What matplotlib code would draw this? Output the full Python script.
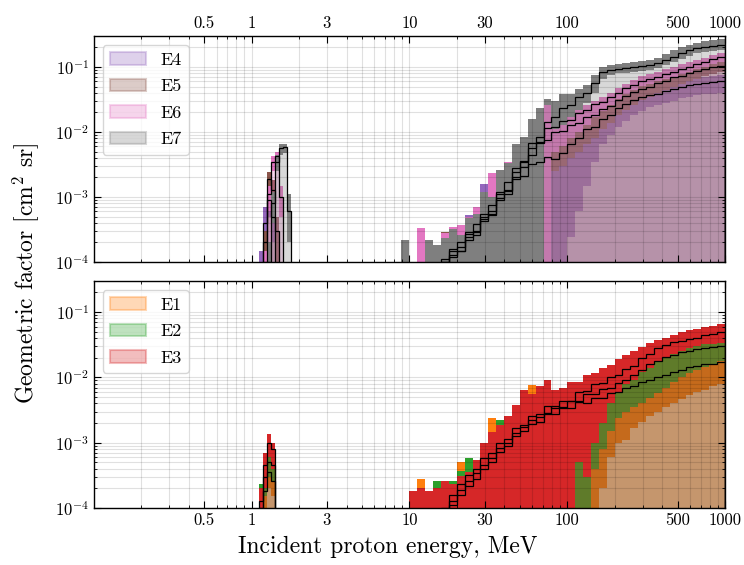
import numpy as np
import matplotlib
matplotlib.use("Agg")
import matplotlib.pyplot as plt
from matplotlib.patches import Patch
from matplotlib.colors import to_rgba
from matplotlib.ticker import LogLocator, NullFormatter

plt.rcParams.update({
    "font.family": "serif",
    "font.serif": ["cmr10"],
    "mathtext.fontset": "cm",
    "axes.formatter.use_mathtext": True,
    "axes.linewidth": 1.0,
})

# energy bins (MeV): narrow peak near 1.2-1.8 MeV and the main range 9-1000 MeV
peak_edges = 10 ** np.linspace(0.05, 0.25, 9)
edges = 10 ** np.linspace(0.95, 3.0, 42)

# ---------------- top panel: E4..E7 ----------------
# peak bins
pk_hi4 = [1.5e-4, 7e-4, 1.2e-3, 8e-4, 0, 0, 0, 0]
pk_mean4 = [8e-5, 4e-4, 9e-4, 5e-4, 0, 0, 0, 0]
pk_lo4 = [0, 1.5e-4, 5e-4, 2e-4, 0, 0, 0, 0]
pk_hi5 = [0, 3e-4, 2.4e-3, 1.8e-3, 5e-4, 0, 0, 0]
pk_mean5 = [0, 2e-4, 1.9e-3, 1.3e-3, 3e-4, 0, 0, 0]
pk_lo5 = [0, 0, 1.2e-3, 8e-4, 1e-4, 0, 0, 0]
pk_hi6 = [0, 1.5e-4, 1.5e-3, 4.3e-3, 5e-3, 1.5e-3, 0, 0]
pk_mean6 = [0, 1e-4, 1.1e-3, 3.5e-3, 4.2e-3, 1e-3, 0, 0]
pk_lo6 = [0, 0, 6e-4, 2.5e-3, 3.2e-3, 5e-4, 0, 0]
pk_hi7 = [0, 0, 2e-4, 1.2e-3, 4.5e-3, 6.5e-3, 6.5e-3, 1.1e-3]
pk_mean7 = [0, 0, 1e-4, 8e-4, 3.5e-3, 5.6e-3, 5.8e-3, 6e-4]
pk_lo7 = [0, 0, 0, 4e-4, 2.5e-3, 4.5e-3, 4.8e-3, 2e-4]

# main range
hi4 = [0, 0, 1.4e-4, 0, 1.8e-4, 1.5e-4, 2.0e-4, 3.0e-4, 5.2e-4, 6.0e-4,
       1.6e-3, 1.3e-3, 1.8e-3, 2.5e-3, 3.5e-3, 5.0e-3, 6.5e-3, 8.0e-3, 9.0e-3, 9.5e-3,
       1.0e-2, 1.1e-2, 1.3e-2, 1.5e-2, 1.8e-2, 2.1e-2, 2.5e-2, 2.9e-2, 3.3e-2, 3.7e-2,
       4.0e-2, 4.3e-2, 4.7e-2, 5.1e-2, 5.5e-2, 5.9e-2, 6.3e-2, 6.6e-2, 6.9e-2, 7.2e-2,
       7.5e-2]
mean4 = [0, 0, 6e-5, 0, 7e-5, 9e-5, 1.3e-4, 1.5e-4, 2.4e-4, 2.6e-4,
         4.6e-4, 5.2e-4, 9.5e-4, 1.1e-3, 1.9e-3, 2.1e-3, 3.2e-3, 3.4e-3, 4.1e-3, 3.9e-3,
         4.8e-3, 6.5e-3, 8.0e-3, 1.1e-2, 1.2e-2, 1.6e-2, 1.85e-2, 2.35e-2, 2.65e-2, 3.1e-2,
         3.4e-2, 3.7e-2, 3.9e-2, 4.3e-2, 4.6e-2, 5.0e-2, 5.2e-2, 5.5e-2, 5.7e-2, 5.9e-2,
         6.1e-2]
lo4 = [0, 0, 0, 0, 0, 0, 0, 0, 0, 0,
       0, 0, 0, 0, 0, 0, 0, 0, 0, 0,
       0, 2.4e-4, 6e-4, 1.5e-3, 3.5e-3, 6.5e-3, 9e-3, 1.2e-2, 1.5e-2, 1.8e-2,
       2.1e-2, 2.4e-2, 2.6e-2, 2.8e-2, 3.0e-2, 3.3e-2, 3.5e-2, 3.7e-2, 3.8e-2, 3.9e-2,
       4.0e-2]

hi5 = [1.2e-4, 0, 0, 0, 1.3e-4, 2.9e-4, 3.3e-4, 3.4e-4, 4.2e-4, 6.0e-4,
       1.0e-3, 1.4e-3, 2.0e-3, 3.0e-3, 4.5e-3, 6.5e-3, 9.0e-3, 1.2e-2, 1.4e-2, 1.5e-2,
       1.45e-2, 1.55e-2, 1.75e-2, 2.0e-2, 2.3e-2, 2.6e-2, 3.1e-2, 3.6e-2, 4.2e-2, 4.8e-2,
       5.4e-2, 6.0e-2, 6.6e-2, 7.2e-2, 7.9e-2, 8.6e-2, 9.3e-2, 0.10, 0.107, 0.114,
       0.12]
mean5 = [5e-5, 0, 0, 0, 5e-5, 1.0e-4, 1.2e-4, 2.0e-4, 2.2e-4, 3.8e-4,
         4.2e-4, 7.5e-4, 9.0e-4, 1.7e-3, 2.0e-3, 3.6e-3, 4.4e-3, 7.0e-3, 7.6e-3, 1.0e-2,
         1.05e-2, 1.3e-2, 1.4e-2, 1.7e-2, 1.85e-2, 2.25e-2, 2.55e-2, 3.15e-2, 3.55e-2, 4.1e-2,
         4.6e-2, 5.0e-2, 5.7e-2, 6.1e-2, 6.9e-2, 7.3e-2, 8.1e-2, 8.6e-2, 9.2e-2, 9.9e-2,
         0.105]
lo5 = [0, 0, 0, 0, 0, 0, 0, 0, 0, 0,
       0, 0, 0, 0, 0, 0, 0, 0, 0, 2.5e-3,
       3e-3, 4e-3, 5e-3, 6.5e-3, 8e-3, 1.1e-2, 1.4e-2, 1.8e-2, 2.2e-2, 2.6e-2,
       3.1e-2, 3.5e-2, 4.0e-2, 4.5e-2, 5.0e-2, 5.5e-2, 6.1e-2, 6.6e-2, 7.2e-2, 7.8e-2,
       8.4e-2]

hi6 = [0, 0, 3.3e-4, 1.4e-4, 1.6e-4, 2.8e-4, 3.5e-4, 3.7e-4, 5.0e-4, 7.0e-4,
       1.1e-3, 2.3e-3, 2.2e-3, 3.5e-3, 5.5e-3, 8.0e-3, 1.2e-2, 1.8e-2, 2.7e-2, 1.5e-2,
       1.7e-2, 1.8e-2, 2.2e-2, 2.6e-2, 3.0e-2, 3.4e-2, 4.0e-2, 4.7e-2, 5.5e-2, 6.3e-2,
       7.2e-2, 7.8e-2, 8.5e-2, 9.2e-2, 0.10, 0.11, 0.12, 0.13, 0.14, 0.152,
       0.165]
mean6 = [0, 0, 8e-5, 5e-5, 6e-5, 1.0e-4, 1.5e-4, 1.5e-4, 2.7e-4, 2.9e-4,
         5.0e-4, 6.0e-4, 1.1e-3, 1.25e-3, 2.4e-3, 2.9e-3, 5.6e-3, 6.8e-3, 1.15e-2, 1.2e-2,
         1.5e-2, 1.55e-2, 1.95e-2, 2.15e-2, 2.65e-2, 2.85e-2, 3.45e-2, 3.95e-2, 4.75e-2, 5.35e-2,
         6.1e-2, 6.6e-2, 7.1e-2, 7.9e-2, 8.4e-2, 9.3e-2, 0.101, 0.111, 0.12, 0.132,
         0.145]
lo6 = [0, 0, 0, 0, 0, 0, 0, 0, 0, 0,
       0, 0, 0, 0, 0, 0, 0, 0, 0, 5e-3,
       6e-3, 8e-3, 1.0e-2, 1.3e-2, 1.7e-2, 2.1e-2, 2.6e-2, 3.2e-2, 3.8e-2, 4.5e-2,
       5.1e-2, 5.5e-2, 6.0e-2, 6.5e-2, 7.1e-2, 7.8e-2, 8.5e-2, 9.2e-2, 0.10, 0.11,
       0.12]

hi7 = [2.2e-4, 0, 0, 2.2e-4, 1.8e-4, 2.3e-4, 3.2e-4, 2.6e-4, 4.8e-4, 5.5e-4,
       1.2e-3, 1.0e-3, 2.6e-3, 3.3e-3, 6.5e-3, 8.5e-3, 1.6e-2, 2.3e-2, 3.2e-2, 3.0e-2,
       3.8e-2, 3.9e-2, 4.6e-2, 5.3e-2, 7.5e-2, 0.10, 0.108, 0.112, 0.115, 0.12,
       0.125, 0.13, 0.14, 0.16, 0.18, 0.20, 0.22, 0.235, 0.25, 0.258,
       0.265]
mean7 = [5e-5, 0, 0, 6e-5, 7e-5, 1.1e-4, 1.6e-4, 1.7e-4, 2.9e-4, 3.0e-4,
         5.5e-4, 5.5e-4, 1.2e-3, 1.3e-3, 2.8e-3, 3.4e-3, 6.8e-3, 8.5e-3, 1.45e-2, 1.7e-2,
         2.3e-2, 2.6e-2, 3.4e-2, 4.0e-2, 5.6e-2, 8.3e-2, 9.0e-2, 9.4e-2, 9.6e-2, 9.9e-2,
         0.103, 0.107, 0.115, 0.13, 0.145, 0.163, 0.18, 0.193, 0.203, 0.21,
         0.215]
lo7 = [0, 0, 0, 0, 0, 0, 0, 0, 0, 0,
       0, 0, 0, 0, 0, 0, 0, 0, 2.6e-2, 1.1e-2,
       1.3e-2, 1.7e-2, 2.2e-2, 2.8e-2, 4.0e-2, 6.5e-2, 7.5e-2, 8.0e-2, 8.2e-2, 8.4e-2,
       8.7e-2, 9.0e-2, 9.6e-2, 0.108, 0.12, 0.135, 0.15, 0.162, 0.17, 0.176,
       0.18]

# ---------------- bottom panel: E1..E3 ----------------
pk_hi1 = [0, 2.5e-4, 4.5e-4, 3.5e-4, 0, 0, 0, 0]
pk_mean1 = [0, 1.8e-4, 3.5e-4, 2.6e-4, 0, 0, 0, 0]
pk_lo1 = [0, 0, 2e-4, 1.5e-4, 0, 0, 0, 0]
pk_hi2 = [2.3e-4, 4e-4, 7e-4, 6e-4, 0, 0, 0, 0]
pk_mean2 = [1.3e-4, 3e-4, 5e-4, 4.5e-4, 0, 0, 0, 0]
pk_lo2 = [0, 1.5e-4, 3e-4, 2.5e-4, 0, 0, 0, 0]
pk_hi3 = [2e-4, 7e-4, 1.35e-3, 1e-3, 0, 0, 0, 0]
pk_mean3 = [1e-4, 4.5e-4, 9.8e-4, 8e-4, 0, 0, 0, 0]
pk_lo3 = [0, 2e-4, 6e-4, 4e-4, 0, 0, 0, 0]

hi1 = [0, 1.2e-4, 2.8e-4, 1.5e-4, 1.6e-4, 1.8e-4, 2.4e-4, 5.0e-4, 4.0e-4, 4.5e-4,
       7.0e-4, 2.4e-3, 1.6e-3, 2.0e-3, 3.0e-3, 4.0e-3, 7.6e-3, 4.5e-3, 5.0e-3, 5.0e-3,
       4.5e-3, 5.0e-3, 5.5e-3, 6.0e-3, 6.5e-3, 7.0e-3, 7.5e-3, 8.5e-3, 9.5e-3, 1.05e-2,
       1.15e-2, 1.3e-2, 1.45e-2, 1.6e-2, 1.75e-2, 1.9e-2, 2.0e-2, 2.1e-2, 2.2e-2, 2.35e-2,
       2.5e-2]
mean1 = [0, 5e-5, 5e-5, 5e-5, 6e-5, 8e-5, 1.3e-4, 1.6e-4, 2.6e-4, 2.8e-4,
         4.6e-4, 5.0e-4, 8.2e-4, 8.8e-4, 1.4e-3, 1.5e-3, 2.2e-3, 2.1e-3, 2.9e-3, 2.8e-3,
         3.5e-3, 3.4e-3, 4.2e-3, 4.1e-3, 4.8e-3, 4.9e-3, 5.7e-3, 5.9e-3, 7.0e-3, 7.3e-3,
         8.5e-3, 9.0e-3, 1.03e-2, 1.08e-2, 1.22e-2, 1.28e-2, 1.42e-2, 1.48e-2, 1.6e-2, 1.63e-2,
         1.72e-2]
lo1 = [0, 0, 0, 0, 0, 0, 0, 0, 0, 0,
       0, 0, 0, 0, 0, 0, 0, 0, 0, 0,
       0, 0, 0, 0, 0, 2e-4, 6e-4, 1.0e-3, 1.1e-3, 1.7e-3,
       2.1e-3, 2.6e-3, 3.0e-3, 3.5e-3, 4.1e-3, 4.7e-3, 5.3e-3, 5.9e-3, 6.5e-3, 7.3e-3,
       8.0e-3]

hi2 = [0, 1.5e-4, 1.6e-4, 1.5e-4, 2.6e-4, 2.0e-4, 2.6e-4, 3.7e-4, 5.8e-4, 4.5e-4,
       8.0e-4, 1.2e-3, 2.2e-3, 2.2e-3, 3.5e-3, 5.0e-3, 5.5e-3, 6.0e-3, 6.5e-3, 6.0e-3,
       5.5e-3, 6.5e-3, 7.5e-3, 8.5e-3, 9.5e-3, 1.05e-2, 1.2e-2, 1.4e-2, 1.6e-2, 1.8e-2,
       2.1e-2, 2.4e-2, 2.7e-2, 3.0e-2, 3.2e-2, 3.4e-2, 3.6e-2, 3.8e-2, 4.0e-2, 4.1e-2,
       4.2e-2]
mean2 = [0, 5e-5, 5e-5, 6e-5, 7e-5, 9e-5, 1.1e-4, 2.3e-4, 2.2e-4, 3.9e-4,
         4.0e-4, 7.0e-4, 7.2e-4, 1.15e-3, 1.25e-3, 1.9e-3, 1.95e-3, 2.8e-3, 2.8e-3, 3.6e-3,
         3.4e-3, 4.3e-3, 4.4e-3, 5.5e-3, 5.6e-3, 6.6e-3, 6.8e-3, 8.3e-3, 9.0e-3, 1.1e-2,
         1.28e-2, 1.58e-2, 1.77e-2, 2.08e-2, 2.22e-2, 2.48e-2, 2.58e-2, 2.72e-2, 2.78e-2, 2.92e-2,
         3.0e-2]
lo2 = [0, 0, 0, 0, 0, 0, 0, 0, 0, 0,
       0, 0, 0, 0, 0, 0, 0, 0, 0, 0,
       0, 0, 0, 0, 4e-4, 8e-4, 1.5e-3, 2.4e-3, 3.0e-3, 3.5e-3,
       4.0e-3, 4.9e-3, 5.8e-3, 7.0e-3, 8.5e-3, 1.0e-2, 1.15e-2, 1.3e-2, 1.45e-2, 1.6e-2,
       1.8e-2]

hi3 = [0, 1.8e-4, 2.0e-4, 1.8e-4, 2.0e-4, 2.6e-4, 2.3e-4, 3.1e-4, 3.5e-4, 5.5e-4,
       1.0e-3, 1.45e-3, 1.9e-3, 2.6e-3, 3.8e-3, 6.5e-3, 5.5e-3, 7.5e-3, 9.0e-3, 6.5e-3,
       7.0e-3, 8.5e-3, 8.5e-3, 1.1e-2, 1.15e-2, 1.4e-2, 1.55e-2, 1.9e-2, 2.2e-2, 2.5e-2,
       2.9e-2, 3.4e-2, 3.7e-2, 4.0e-2, 4.5e-2, 5.0e-2, 5.4e-2, 5.6e-2, 5.9e-2, 6.2e-2,
       6.6e-2]
mean3 = [0, 5e-5, 6e-5, 7e-5, 8e-5, 1.0e-4, 1.6e-4, 1.9e-4, 3.2e-4, 3.4e-4,
         5.8e-4, 5.8e-4, 9.8e-4, 1.0e-3, 1.7e-3, 1.75e-3, 2.6e-3, 2.5e-3, 3.6e-3, 3.4e-3,
         4.3e-3, 4.4e-3, 5.9e-3, 6.2e-3, 7.9e-3, 8.2e-3, 1.0e-2, 1.07e-2, 1.35e-2, 1.47e-2,
         1.95e-2, 2.25e-2, 2.85e-2, 3.15e-2, 3.45e-2, 3.55e-2, 3.85e-2, 4.05e-2, 4.45e-2, 4.65e-2,
         4.9e-2]
lo3 = [0, 0, 0, 0, 0, 0, 0, 0, 0, 0,
       0, 0, 0, 0, 0, 0, 0, 0, 0, 0,
       0, 0, 5e-4, 3e-4, 1e-3, 2e-3, 4e-3, 6e-3, 8e-3, 9e-3,
       1.2e-2, 1.4e-2, 1.7e-2, 2.0e-2, 2.3e-2, 2.5e-2, 2.8e-2, 3.0e-2, 3.2e-2, 3.3e-2,
       3.4e-2]

labels_top = ["E4", "E5", "E6", "E7"]
colors_top = ["tab:purple", "tab:brown", "tab:pink", "tab:gray"]
labels_bot = ["E1", "E2", "E3"]
colors_bot = ["tab:orange", "tab:green", "tab:red"]

xticks = [0.5, 1, 3, 10, 30, 100, 500, 1000]
xticklabels = ["0.5", "1", "3", "10", "30", "100", "500", "1000"]

FLOOR = 1e-7


def ext(v):
    v = np.asarray(v, dtype=float)
    v = np.where(v > 0, v, FLOOR)
    return np.append(v, v[-1])


def draw_band(ax, e, hi, lo, color):
    top = ext(hi)
    bot = np.minimum(ext(lo), top)
    # light fill from the bottom up to the upper edge
    ax.fill_between(e, FLOOR, top, step="post", color=color, alpha=0.3, lw=0)
    # solid band
    ax.fill_between(e, bot, top, step="post", color=color, lw=0)


def draw_mean(ax, e, mean):
    m = np.asarray(mean, dtype=float)
    m = np.where(m > 0, m, FLOOR)
    ax.stairs(m, e, baseline=FLOOR, color="k", lw=0.9, zorder=3)


fig = plt.figure(figsize=(7.44, 5.65), dpi=100)
ax1 = fig.add_axes([0.126, 0.5363, 0.8485, 0.400])
ax2 = fig.add_axes([0.126, 0.1009, 0.8485, 0.4018])

top_series = [
    (pk_hi4, pk_mean4, pk_lo4, hi4, mean4, lo4),
    (pk_hi5, pk_mean5, pk_lo5, hi5, mean5, lo5),
    (pk_hi6, pk_mean6, pk_lo6, hi6, mean6, lo6),
    (pk_hi7, pk_mean7, pk_lo7, hi7, mean7, lo7),
]
bot_series = [
    (pk_hi1, pk_mean1, pk_lo1, hi1, mean1, lo1),
    (pk_hi2, pk_mean2, pk_lo2, hi2, mean2, lo2),
    (pk_hi3, pk_mean3, pk_lo3, hi3, mean3, lo3),
]

for ax, series, colors, labels in [(ax1, top_series, colors_top, labels_top),
                                   (ax2, bot_series, colors_bot, labels_bot)]:
    for (phi, pmean, plo, hi, mean, lo), c in zip(series, colors):
        draw_band(ax, peak_edges, phi, plo, c)
        draw_band(ax, edges, hi, lo, c)
    for (phi, pmean, plo, hi, mean, lo) in series:
        draw_mean(ax, peak_edges, pmean)
        draw_mean(ax, edges, mean)

    handles = [Patch(facecolor=to_rgba(c, 0.3), edgecolor=to_rgba(c, 0.3), lw=1.5, label=l)
               for c, l in zip(colors, labels)]
    ax.legend(handles=handles, loc="upper left", fontsize=13, handlelength=2.0,
              handleheight=0.7, labelspacing=0.6, handletextpad=0.8,
              borderaxespad=0.5, fancybox=True)

    ax.set_xscale("log")
    ax.set_yscale("log")
    ax.set_xlim(0.1, 1000)
    ax.set_ylim(1e-4, 0.3)
    ax.set_xticks(xticks)
    ax.set_xticklabels(xticklabels)
    ax.xaxis.set_minor_locator(LogLocator(base=10, subs=np.arange(1, 10) * 1.0, numticks=30))
    ax.xaxis.set_minor_formatter(NullFormatter())
    ax.yaxis.set_major_locator(LogLocator(base=10, numticks=10))
    ax.yaxis.set_minor_locator(LogLocator(base=10, subs=np.arange(2, 10) * 1.0, numticks=30))
    ax.yaxis.set_minor_formatter(NullFormatter())
    ax.tick_params(which="both", direction="in", top=True, right=True, labelsize=12)
    ax.tick_params(which="major", length=5, width=0.8)
    ax.tick_params(which="minor", length=2.5, width=0.6)
    ax.grid(which="both", color="k", alpha=0.12, lw=0.8)

ax1.tick_params(axis="x", which="both", labeltop=True, labelbottom=False)

fig.text(0.521, 0.032, "Incident proton energy, MeV", ha="center", va="center", fontsize=17)
fig.text(0.034, 0.517, "Geometric factor [cm$^2$ sr]", ha="center", va="center",
         rotation=90, fontsize=17)

fig.savefig("out.png", dpi=100)
